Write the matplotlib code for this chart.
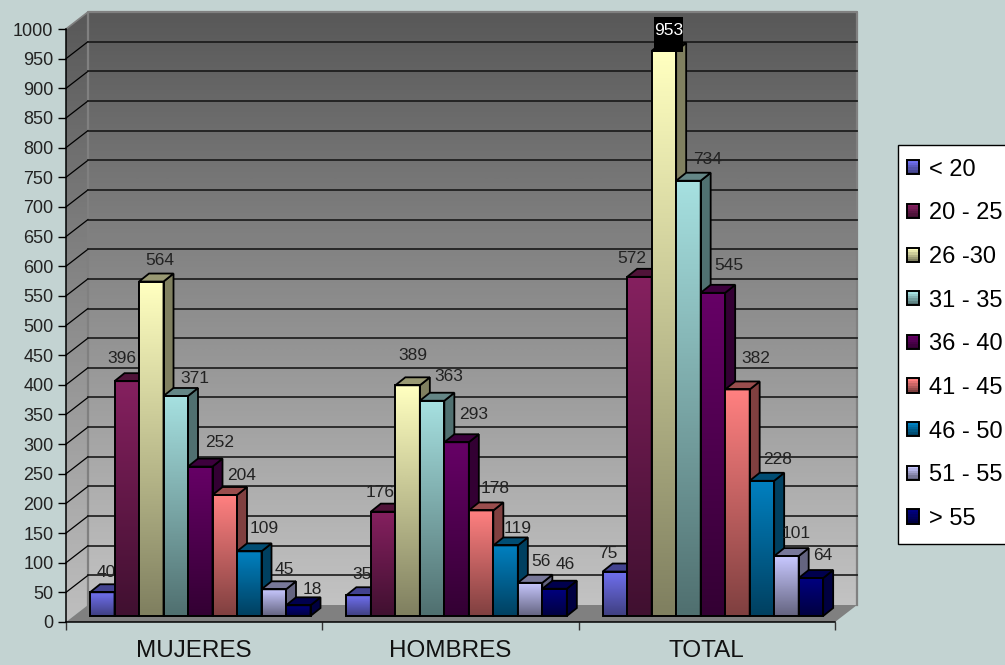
import numpy as np
import matplotlib
matplotlib.use("Agg")
import matplotlib.pyplot as plt
from matplotlib.colors import LinearSegmentedColormap, to_rgb
from matplotlib.legend_handler import HandlerBase
from matplotlib.patches import Patch, Polygon, Rectangle

groups = ["MUJERES", "HOMBRES", "TOTAL"]
ages = ["< 20", "20 - 25", "26 -30", "31 - 35", "36 - 40", "41 - 45", "46 - 50", "51 - 55", "> 55"]
mujeres = [40, 396, 564, 371, 252, 204, 109, 45, 18]
hombres = [35, 176, 389, 363, 293, 178, 119, 56, 46]
total = [75, 572, 953, 734, 545, 382, 228, 101, 64]
yticks = list(range(0, 1001, 50))

# bar faces: colour at the top, colour at the bottom
top_cols = ["#7070F0", "#85205F", "#FFFFC0", "#A6E0E0", "#660066", "#FF8080", "#0080C0", "#C8C8FF", "#000080"]
bot_cols = ["#3F3F80", "#401030", "#808060", "#507070", "#330033", "#804040", "#004060", "#646480", "#000040"]

# label shifts in px from the top of each bar, hand placed like the original
lab_dx = [[4, -5, 9, 19, 19, 17, 15, 11, 14],
          [3, -3, 5, 17, 17, 14, 12, 11, 11],
          [-7, -8, 5, 19, 16, 18, 16, 10, 12]]
lab_dy = [[20, 23, 21, 17, 24, 20, 23, 20, 16],
          [21, 19, 30, 24, 28, 22, 17, 21, 24],
          [18, 18, 20, 21, 27, 31, 21, 23, 23]]

W, H = 1005, 665
bg = "#C3D3D2"
font = "Liberation Sans"

fig = plt.figure(figsize=(W / 100, H / 100), dpi=100, facecolor=bg)
ax = fig.add_axes([66 / W, (H - 622) / H, 769 / W, 593 / H])
ax.set_xlim(0, 3)
ax.set_ylim(0, 1000)
ax.set_autoscale_on(False)
ax.patch.set_visible(False)

px = 3 / 769   # data units for a pixel, x
py = 1000 / 593  # same for y


def grad(x0, x1, y0, y1, ctop, cbot, z, clip=None):
    cmap = LinearSegmentedColormap.from_list("g", [ctop, cbot])
    im = ax.imshow(np.linspace(0, 1, 64).reshape(-1, 1), cmap=cmap, extent=(x0, x1, y0, y1),
                   aspect="auto", origin="upper", interpolation="bilinear", zorder=z)
    if clip is None:
        im.set_clip_on(False)
    else:
        poly = Polygon(clip, transform=ax.transData)
        im.set_clip_box(fig.bbox)
        im.set_clip_path(poly)
    return im


def mix(c, f):
    return tuple(np.array(to_rgb(c)) * f)


class GradSwatch(HandlerBase):
    # legend key with the same top to bottom fade as the bars
    def __init__(self, ctop, cbot, **kw):
        super().__init__(**kw)
        self.ctop, self.cbot = np.array(to_rgb(ctop)), np.array(to_rgb(cbot))

    def create_artists(self, legend, orig, xdescent, ydescent, width, height, fontsize, trans):
        out = []
        n = 6
        for i in range(n):
            t = i / (n - 1)
            c = self.ctop * (1 - t) + self.cbot * t
            y = -ydescent + height * (1 - (i + 1) / n)
            out.append(Rectangle((-xdescent, y), width, height / n, fc=c, ec="none", transform=trans))
        out.append(Rectangle((-xdescent, -ydescent), width, height, fc="none", ec="black", lw=1.4, transform=trans))
        return out


# walls and floor
wx, wy = 22 * px, 17 * py
grad(wx, 3 + wx, wy, 1000 + wy, "#595959", "#C2C2C2", 0)
grad(0, wx, 0, 1000 + wy, "#595959", "#BEBEBE", 0,
     clip=[(0, 0), (wx, wy), (wx, 1000 + wy), (0, 1000)])
ax.add_patch(Polygon([(0, 0), (wx, wy), (3 + wx, wy), (3, 0)], fc="#808080", ec="none", zorder=1, clip_on=False))
ax.plot([wx, wx, 3 + wx, 3 + wx], [wy, 1000 + wy, 1000 + wy, wy], color="#808080", lw=1.6, zorder=1, clip_on=False)
ax.plot([0, wx, 3 + wx], [1000, 1000 + wy, 1000 + wy], color="#808080", lw=1.2, zorder=1, clip_on=False)
for v in yticks[1:-1]:
    ax.plot([0, wx], [v, v + wy], color="black", lw=0.9, zorder=1, clip_on=False)
    ax.plot([wx, 3 + wx], [v + wy, v + wy], color="#161616", lw=1.3, alpha=0.9, zorder=1, clip_on=False)

# bars
bw = 24.5 * px
off_x, off_y = 24 * px, 6 * py
dx, dy = 10 * px, 8 * py
for g, vals in enumerate([mujeres, hombres, total]):
    for k, v in enumerate(vals):
        z = 10 + g * 20 + k
        x0 = g + off_x + k * bw
        x1 = x0 + bw
        y0 = off_y
        y1 = y0 + v
        side = [(x1, y0), (x1 + dx, y0 + dy), (x1 + dx, y1 + dy), (x1, y1)]
        cap = [(x0, y1), (x0 + dx, y1 + dy), (x1 + dx, y1 + dy), (x1, y1)]
        grad(x0, x1, y0, y1, top_cols[k], bot_cols[k], z)
        ax.add_patch(Polygon(side, fc=bot_cols[k], ec="black", lw=1.3, zorder=z, clip_on=False, joinstyle="miter"))
        ax.add_patch(Polygon(cap, fc=mix(top_cols[k], 0.6), ec="black", lw=1.3, zorder=z, clip_on=False, joinstyle="miter"))
        ax.bar(x0, v, width=bw, bottom=y0, align="edge", fc="none", ec="black", lw=1.4, zorder=z, clip_on=False)
        col = "#222222"
        if v == 953:
            # the original has a black block behind this one label
            col = "white"
            cx = x0 + bw / 2 + lab_dx[g][k] * px
            ax.add_patch(Rectangle((cx - 14.5 * px, y1 - 1 * py), 29 * px, 35 * py, fc="black", ec="none",
                                   zorder=z + 0.4, clip_on=False))
        ax.annotate(str(v), xy=(x0 + bw / 2, y1), xytext=(lab_dx[g][k] * 0.72, lab_dy[g][k] * 0.72),
                    textcoords="offset points", ha="center", va="center", fontsize=12.5,
                    family=font, color=col, zorder=z + 0.5, annotation_clip=False)

# axes
for s in ["top", "right"]:
    ax.spines[s].set_visible(False)
for s in ["left", "bottom"]:
    ax.spines[s].set_linewidth(1.1)
    ax.spines[s].set_zorder(2)
ax.set_yticks(yticks)
ax.set_yticklabels([str(v) for v in yticks], family=font, fontsize=13, color="#222222")
ax.tick_params(axis="y", length=5.5, width=1, pad=3.5)
ax.set_xticks([0, 1, 2, 3])
ax.set_xticklabels([])
ax.tick_params(axis="x", length=5.5, width=1, color="#333333")
ax.set_xticks([0.5, 1.5, 2.5], minor=True)
ax.set_xticklabels(groups, minor=True, family=font, fontsize=17.5, color="#111111")
ax.tick_params(axis="x", which="minor", length=0, pad=13)

handles = [Patch(label=n) for n in ages]
hmap = {h: GradSwatch(a, b, xpad=-0.195) for h, a, b in zip(handles, top_cols, bot_cols)}
leg = fig.legend(handles=handles, handler_map=hmap, loc="upper left", bbox_to_anchor=(898 / W, (H - 145) / H),
                 bbox_transform=fig.transFigure, prop={"family": font, "size": 17},
                 frameon=True, fancybox=False, framealpha=1, edgecolor="black", facecolor="white",
                 borderaxespad=0, borderpad=0.58, labelspacing=0.917, handlelength=0.31, handleheight=0.55,
                 handletextpad=0.42)
leg.get_frame().set_linewidth(1)
leg.set_zorder(100)

fig.savefig("out.png", dpi=100, facecolor=bg)
